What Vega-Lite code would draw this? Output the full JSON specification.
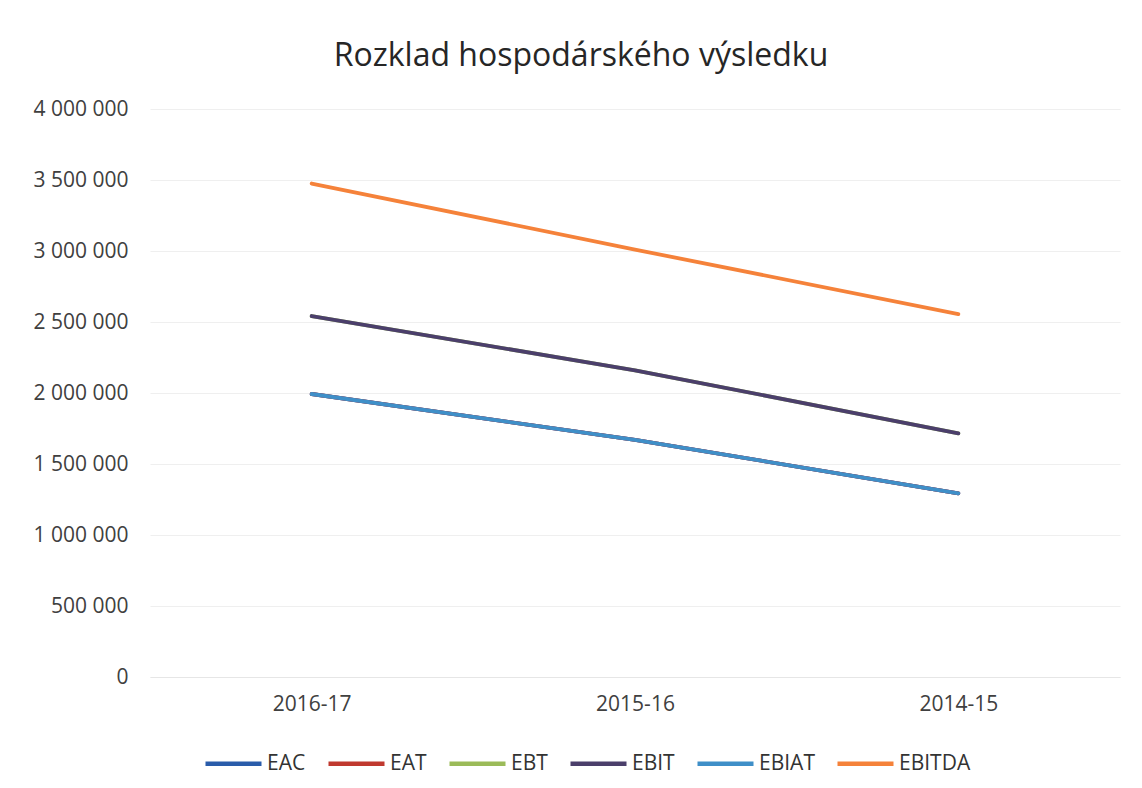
{
  "$schema": "https://vega.github.io/schema/vega-lite/v6.json",
  "autosize": {"type": "none"},
  "padding": {"left": 150, "top": 109, "right": 22, "bottom": 111},
  "width": 970,
  "height": 568,
  "background": "white",
  "config": {"view": {"stroke": null}},
  "title": {
    "text": "Rozklad hospodárského výsledku",
    "font": "Open Sans",
    "fontSize": 32,
    "fontWeight": "normal",
    "color": "#262626",
    "anchor": "middle",
    "dx": -54,
    "offset": 25
  },
  "data": {
    "values": [
      {"obdobi": "2016-17", "ukazatel": "EAC", "hodnota": 1993000},
      {"obdobi": "2015-16", "ukazatel": "EAC", "hodnota": 1670000},
      {"obdobi": "2014-15", "ukazatel": "EAC", "hodnota": 1294000},
      {"obdobi": "2016-17", "ukazatel": "EAT", "hodnota": 1993000},
      {"obdobi": "2015-16", "ukazatel": "EAT", "hodnota": 1670000},
      {"obdobi": "2014-15", "ukazatel": "EAT", "hodnota": 1294000},
      {"obdobi": "2016-17", "ukazatel": "EBT", "hodnota": 2542000},
      {"obdobi": "2015-16", "ukazatel": "EBT", "hodnota": 2160000},
      {"obdobi": "2014-15", "ukazatel": "EBT", "hodnota": 1716000},
      {"obdobi": "2016-17", "ukazatel": "EBIT", "hodnota": 2542000},
      {"obdobi": "2015-16", "ukazatel": "EBIT", "hodnota": 2160000},
      {"obdobi": "2014-15", "ukazatel": "EBIT", "hodnota": 1716000},
      {"obdobi": "2016-17", "ukazatel": "EBIAT", "hodnota": 1993000},
      {"obdobi": "2015-16", "ukazatel": "EBIAT", "hodnota": 1670000},
      {"obdobi": "2014-15", "ukazatel": "EBIAT", "hodnota": 1294000},
      {"obdobi": "2016-17", "ukazatel": "EBITDA", "hodnota": 3475000},
      {"obdobi": "2015-16", "ukazatel": "EBITDA", "hodnota": 3010000},
      {"obdobi": "2014-15", "ukazatel": "EBITDA", "hodnota": 2556000}
    ]
  },
  "mark": {"type": "line", "strokeWidth": 3.8, "strokeCap": "round", "strokeJoin": "round"},
  "encoding": {
    "x": {
      "field": "obdobi",
      "type": "ordinal",
      "sort": ["2016-17", "2015-16", "2014-15"],
      "scale": {"type": "point", "padding": 0.5},
      "axis": {
        "title": null,
        "labelAngle": 0,
        "labelFont": "Open Sans",
        "labelFontSize": 21,
        "labelColor": "#404040",
        "labelPadding": 16,
        "ticks": false,
        "domain": true,
        "domainColor": "#e6e6e6",
        "grid": false
      }
    },
    "y": {
      "field": "hodnota",
      "type": "quantitative",
      "scale": {"domain": [0, 4000000], "nice": false},
      "axis": {
        "title": null,
        "values": [0, 500000, 1000000, 1500000, 2000000, 2500000, 3000000, 3500000, 4000000],
        "labelExpr": "replace(replace(format(datum.value, ','), ',', ' '), ',', ' ')",
        "labelFont": "Open Sans",
        "labelFontSize": 21,
        "labelColor": "#404040",
        "labelPadding": 22,
        "ticks": false,
        "domain": false,
        "grid": true,
        "gridColor": "#efefef",
        "gridWidth": 1
      }
    },
    "color": {
      "field": "ukazatel",
      "type": "nominal",
      "sort": ["EAC", "EAT", "EBT", "EBIT", "EBIAT", "EBITDA"],
      "scale": {
        "domain": ["EAC", "EAT", "EBT", "EBIT", "EBIAT", "EBITDA"],
        "range": ["#2A5CAA", "#C0392F", "#9BBB59", "#4B3F6B", "#3F8FC8", "#F5823A"]
      },
      "legend": {
        "title": null,
        "orient": "none",
        "direction": "horizontal",
        "legendX": 53,
        "legendY": 624,
        "symbolType": "stroke",
        "symbolSize": 3136,
        "symbolStrokeWidth": 4.5,
        "labelFont": "Open Sans",
        "labelFontSize": 21,
        "labelColor": "#333333",
        "labelOffset": 3,
        "columnPadding": 13,
        "padding": 0
      }
    }
  }
}
